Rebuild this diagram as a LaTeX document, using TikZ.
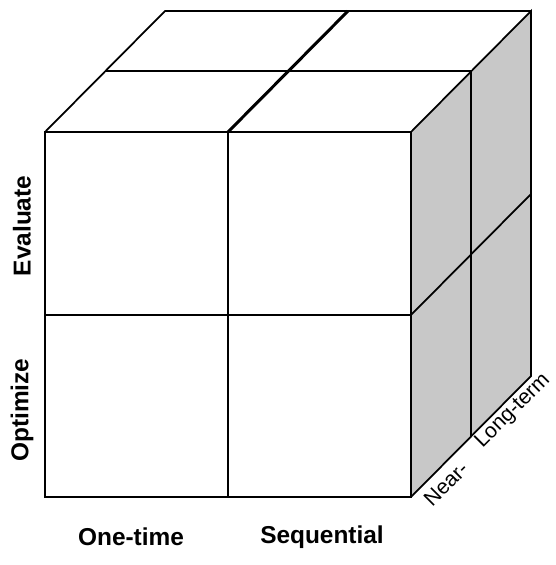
\documentclass[tikz,border=0pt]{standalone}
\usepackage{fontspec}
\setmainfont{Liberation Sans}
\usepackage{tikz}
\usetikzlibrary{calc}
\usepackage{xcolor}
\definecolor{sidegray}{RGB}{200,200,200}

\begin{document}
\begin{tikzpicture}[x=0.02cm,y=-0.02cm,
  edge/.style={line width=1pt,line join=miter},
  divider/.style={line width=1.7pt},
  axislabel/.style={inner sep=0pt,font=\bfseries\fontsize{13.9}{16}\selectfont},
  depthlabel/.style={inner sep=0pt,rotate=45,font=\fontsize{12}{14}\selectfont}]
  \useasboundingbox (0,0) rectangle (555,565);

  % corners
  \coordinate (ftl) at (45,132);
  \coordinate (ftr) at (411,132);
  \coordinate (fbl) at (45,497);
  \coordinate (fbr) at (411,497);
  \coordinate (btl) at (165,11);
  \coordinate (btr) at (531,11);
  \coordinate (bbr) at (531,376);

  % right face
  \fill[sidegray] (ftr)--(btr)--(bbr)--(fbr)--cycle;
  \draw[edge] (ftr)--(btr)--(bbr)--(fbr);
  \draw[edge] (471,71)--(471,437);
  \draw[edge] (411,315)--(531,194);

  % top face
  \draw[edge] (ftl)--(btl)--(btr);
  \draw[edge] (105,71)--(471,71);
  \draw[divider] (228,132)--(348,11);

  % front face
  \draw[edge] (ftl) rectangle (fbr);
  \draw[edge] (45,315)--(411,315);
  \draw[divider] (228,132)--(228,497);

  % labels
  \node[axislabel,rotate=90] (eval) at (22,226) {Evaluate};
  \node[axislabel,rotate=90] (opt) at (22,410) {Optimize};
  \node[axislabel] (once) at (131,537) {One-time};
  \node[axislabel] (seq) at (322,537) {Sequential};
  \node[depthlabel] (near) at (446,484) {Near-};
  \node[depthlabel] (long) at (513,411) {Long-term};
\end{tikzpicture}
\end{document}
